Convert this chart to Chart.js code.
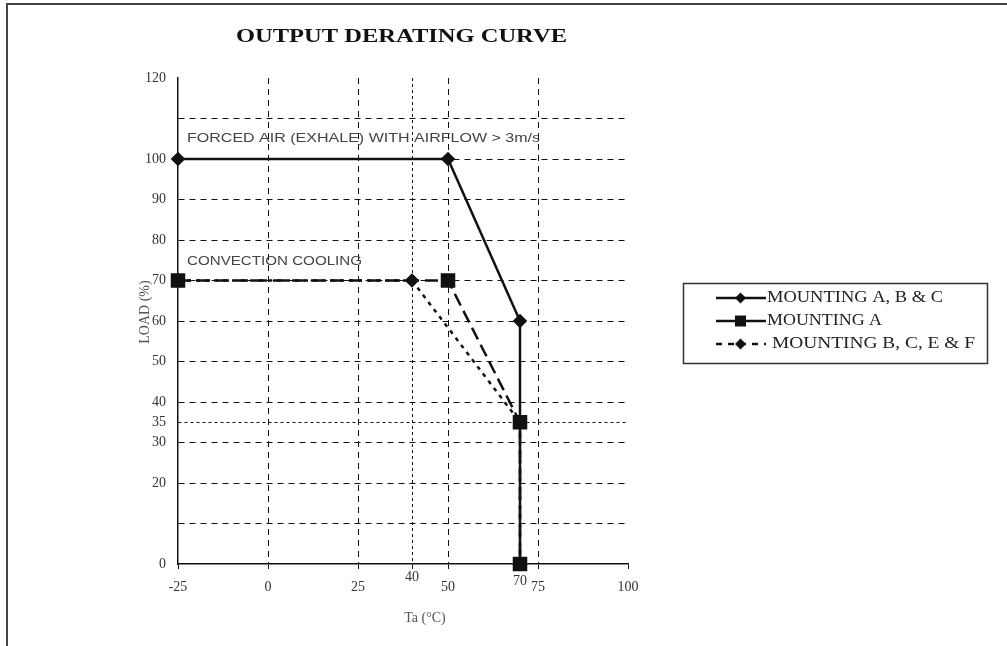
<!DOCTYPE html>
<html>
<head>
<meta charset="utf-8">
<script src="https://cdn.jsdelivr.net/npm/chart.js@4/dist/chart.umd.min.js"></script>
<style>
  html, body { margin: 0; padding: 0; background: #fff; }
  #wrap { width: 1007px; height: 646px; position: relative; }
</style>
</head>
<body>
<div id="wrap"><canvas id="chart" width="1007" height="646"></canvas></div>
<script>
// Ejes: marcas con etiqueta y marcas extra (solo rejilla / etiqueta especial)
const X_TICKS = [-25, 0, 25, 50, 75, 100];
const X_EXTRA = [40, 70];
const Y_TICKS = [0, 20, 30, 35, 40, 50, 60, 70, 80, 90, 100, 120];
const Y_EXTRA = [10, 110];

// Series (Ta °C, carga %)
const ABC_X = [-25, 50, 70, 70];
const ABC_Y = [100, 100, 60, 0];
const A_X = [-25, 50, 70, 70];
const A_Y = [70, 70, 35, 0];
const BCEF_X = [-25, 40, 70, 70];
const BCEF_Y = [70, 70, 35, 0];

const LABELS = ['MOUNTING A, B & C', 'MOUNTING A', 'MOUNTING B, C, E & F'];
const NOTAS = ['FORCED AIR (EXHALE) WITH AIRFLOW > 3m/s', 'CONVECTION COOLING'];

const NEGRO = '#111';
const SERIF = '"Liberation Serif", "Times New Roman", serif';
const SANS = '"Liberation Sans", Arial, sans-serif';

const pares = (xs, ys) => xs.map((x, i) => ({ x, y: ys[i] }));

// Texto ajustado a un ancho fijo (el original va algo espaciado)
function textoAncho(ctx, txt, x, y, ancho) {
  const w = ctx.measureText(txt).width;
  ctx.save();
  ctx.translate(x, y);
  ctx.scale(ancho / w, 1);
  ctx.fillText(txt, 0, 0);
  ctx.restore();
}

const decoracion = {
  id: 'decoracion',
  beforeDraw(chart) {
    const ctx = chart.ctx;
    ctx.save();
    ctx.strokeStyle = '#444';
    ctx.lineWidth = 2;
    ctx.beginPath();
    ctx.moveTo(7, 646);
    ctx.lineTo(7, 4);
    ctx.lineTo(1007, 4);
    ctx.stroke();
    ctx.restore();
  },
  afterDraw(chart) {
    const ctx = chart.ctx;
    const xs = chart.scales.x;
    ctx.save();

    // título
    ctx.fillStyle = '#111';
    ctx.font = 'bold 19px ' + SERIF;
    ctx.textBaseline = 'middle';
    textoAncho(ctx, 'OUTPUT DERATING CURVE', 236, 37, 331);

    // notas dentro del área
    ctx.fillStyle = '#444';
    ctx.font = '13px ' + SANS;
    textoAncho(ctx, NOTAS[0], 187, 138, 353);
    textoAncho(ctx, NOTAS[1], 187, 261, 175);

    // etiquetas especiales del eje x
    ctx.fillStyle = '#333';
    ctx.font = '14px ' + SERIF;
    ctx.textAlign = 'center';
    ctx.fillText(String(X_EXTRA[0]), xs.getPixelForValue(X_EXTRA[0]), 577);
    ctx.fillText(String(X_EXTRA[1]), xs.getPixelForValue(X_EXTRA[1]), 581);

    // títulos de ejes
    ctx.fillStyle = '#555';
    ctx.fillText('Ta (°C)', 425, 618);
    ctx.save();
    ctx.translate(145, 312);
    ctx.rotate(-Math.PI / 2);
    ctx.fillText('LOAD (%)', 0, 0);
    ctx.restore();

    // leyenda
    ctx.strokeStyle = '#333';
    ctx.lineWidth = 1.5;
    ctx.strokeRect(683.5, 283.5, 304, 80);
    const filas = [298, 321, 344];
    const anchos = [176, 115, 203];
    chart.data.datasets.forEach((ds, i) => {
      const y = filas[i];
      ctx.strokeStyle = NEGRO;
      ctx.lineWidth = 2.5;
      ctx.setLineDash(i === 2 ? [6, 6] : []);
      ctx.beginPath();
      ctx.moveTo(716, y);
      ctx.lineTo(766, y);
      ctx.stroke();
      ctx.setLineDash([]);
      ctx.fillStyle = NEGRO;
      if (ds.pointStyle === 'rect') {
        ctx.fillRect(735, y - 5.5, 11, 11);
      } else {
        ctx.beginPath();
        ctx.moveTo(740.5, y - 5.5);
        ctx.lineTo(746, y);
        ctx.lineTo(740.5, y + 5.5);
        ctx.lineTo(735, y);
        ctx.closePath();
        ctx.fill();
      }
      ctx.fillStyle = '#222';
      ctx.font = '16px ' + SERIF;
      ctx.textAlign = 'left';
      ctx.textBaseline = 'middle';
      textoAncho(ctx, ds.label, i === 2 ? 772 : 767, y, anchos[i]);
    });
    ctx.restore();
  }
};

const gridDash = (especial) => (c) =>
  c.tick && c.tick.value === especial ? [3, 3] : [6, 5];

new Chart(document.getElementById('chart'), {
  type: 'line',
  data: {
    datasets: [
      {
        label: LABELS[0],
        data: pares(ABC_X, ABC_Y),
        borderColor: NEGRO,
        backgroundColor: NEGRO,
        borderWidth: 2.5,
        pointStyle: 'rectRot',
        pointRadius: [5.5, 5.5, 5.5, 0],
        order: 3,
      },
      {
        label: LABELS[1],
        data: pares(A_X, A_Y),
        borderColor: NEGRO,
        backgroundColor: NEGRO,
        borderWidth: 2.5,
        borderDash: [13, 6],
        pointStyle: 'rect',
        pointRadius: 8.5,
        order: 1,
      },
      {
        label: LABELS[2],
        data: pares(BCEF_X, BCEF_Y),
        borderColor: NEGRO,
        backgroundColor: NEGRO,
        borderWidth: 2.5,
        borderDash: [4, 5],
        pointStyle: 'rectRot',
        pointRadius: 5.5,
        order: 2,
      },
    ],
  },
  options: {
    responsive: false,
    animation: false,
    clip: false,
    layout: { padding: { left: 0, right: 379, top: 78, bottom: 0 } },
    plugins: { legend: { display: false }, title: { display: false }, tooltip: { enabled: false } },
    elements: { line: { tension: 0 } },
    scales: {
      x: {
        type: 'linear',
        min: -25,
        max: 100,
        afterBuildTicks: (s) => {
          s.ticks = [...X_TICKS, ...X_EXTRA].sort((a, b) => a - b).map((v) => ({ value: v }));
        },
        afterFit: (s) => { s.height = 82; },
        ticks: {
          color: '#333',
          font: { family: SERIF, size: 14 },
          padding: 10,
          maxRotation: 0,
          autoSkip: false,
          callback: (v) => (X_TICKS.includes(v) ? String(v) : ''),
        },
        grid: {
          color: (c) => (c.tick && (c.tick.value === -25 || c.tick.value === 70 || c.tick.value === 100) ? 'rgba(0,0,0,0)' : NEGRO),
          tickColor: NEGRO,
          tickLength: 5,
          lineWidth: 1,
        },
        border: { display: true, color: NEGRO, width: 1.5, dash: gridDash(40) },
      },
      y: {
        type: 'linear',
        min: 0,
        max: 120,
        afterBuildTicks: (s) => {
          s.ticks = [...Y_TICKS, ...Y_EXTRA].sort((a, b) => a - b).map((v) => ({ value: v }));
        },
        afterFit: (s) => { s.width = 178; },
        ticks: {
          color: '#333',
          font: { family: SERIF, size: 14 },
          padding: 12,
          autoSkip: false,
          callback: (v) => (Y_TICKS.includes(v) ? String(v) : ''),
        },
        grid: {
          color: (c) => (c.tick && (c.tick.value === 0 || c.tick.value === 120) ? 'rgba(0,0,0,0)' : NEGRO),
          drawTicks: false,
          lineWidth: 1,
        },
        border: { display: true, color: NEGRO, width: 1.5, dash: gridDash(35) },
      },
    },
  },
  plugins: [decoracion],
});
</script>
</body>
</html>
